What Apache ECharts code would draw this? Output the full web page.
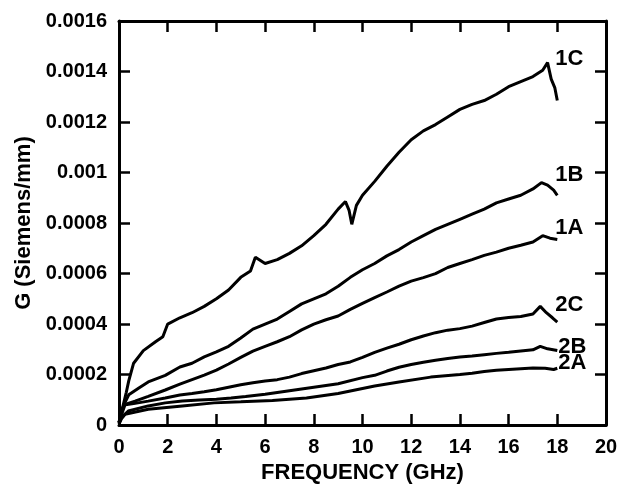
<!DOCTYPE html>
<html>
<head>
<meta charset="utf-8">
<script src="https://cdn.jsdelivr.net/npm/echarts@6/dist/echarts.min.js"></script>
<style>
html,body{margin:0;padding:0;background:#fff;}
#chart{width:621px;height:489px;}
</style>
</head>
<body>
<div id="chart"></div>
<script>
// Tick labels
const xTickLabels = ['0','2','4','6','8','10','12','14','16','18','20'];
const yTickLabels = ['0','0.0002','0.0004','0.0006','0.0008','0.001','0.0012','0.0014','0.0016'];

// Curve names
const curveNames = ['1C','1B','1A','2C','2B','2A'];

// 1C  (frequency GHz, G in units of 1e-4 S/mm)
const f1C = [0,0.1,0.2,0.3,0.4,0.6,1.0,1.5,1.8,2.0,2.5,3.0,3.5,4.0,4.5,5.0,5.4,5.6,6.0,6.5,7.0,7.5,8.0,8.5,9.0,9.3,9.45,9.56,9.75,10.0,10.5,11.0,11.5,12.0,12.5,13.0,13.5,14.0,14.5,15.0,15.5,16.0,16.5,17.0,17.4,17.6,17.75,17.9,18.0];
const g1C = [0.1,0.5,0.9,1.3,1.75,2.45,2.95,3.3,3.5,4.0,4.25,4.45,4.7,5.0,5.35,5.85,6.1,6.65,6.4,6.55,6.8,7.1,7.5,7.95,8.55,8.85,8.5,7.95,8.7,9.1,9.65,10.25,10.8,11.3,11.65,11.9,12.2,12.5,12.7,12.85,13.1,13.4,13.6,13.8,14.05,14.35,13.7,13.35,12.85];

// 1B
const f1B = [0,0.1,0.2,0.4,0.8,1.2,1.9,2.5,3.0,3.5,4.0,4.5,5.0,5.5,6.0,6.5,7.0,7.5,8.0,8.5,9.0,9.5,10.0,10.5,11.0,11.5,12.0,12.5,13.0,13.5,14.0,14.5,15.0,15.5,16.0,16.5,17.0,17.35,17.6,17.85,18.0];
const g1B = [0.1,0.5,0.8,1.2,1.46,1.71,1.97,2.3,2.45,2.7,2.9,3.12,3.45,3.8,4.0,4.2,4.5,4.8,5.0,5.2,5.5,5.85,6.15,6.4,6.7,6.95,7.25,7.5,7.75,7.95,8.15,8.35,8.55,8.8,8.95,9.1,9.35,9.6,9.5,9.3,9.1];

// 1A
const f1A = [0,0.1,0.25,0.66,1.2,1.9,2.5,3.0,3.5,4.0,4.5,5.0,5.5,6.0,6.5,7.0,7.5,8.0,8.5,9.0,9.5,10.0,10.5,11.0,11.5,12.0,12.5,13.0,13.5,14.0,14.5,15.0,15.5,16.0,16.5,17.0,17.4,17.7,18.0];
const g1A = [0.1,0.4,0.82,0.95,1.14,1.39,1.62,1.8,1.98,2.18,2.42,2.68,2.93,3.12,3.3,3.5,3.77,4.0,4.17,4.32,4.58,4.82,5.05,5.27,5.5,5.7,5.84,6.0,6.24,6.4,6.55,6.72,6.85,7.0,7.12,7.25,7.5,7.4,7.35];

// 2C
const f2C = [0,0.1,0.2,0.6,1.2,1.9,2.5,3.0,3.5,4.0,4.5,5.0,5.5,6.0,6.5,7.0,7.5,8.0,8.5,9.0,9.5,10.0,10.5,11.0,11.5,12.0,12.5,13.0,13.5,14.0,14.5,15.0,15.5,16.0,16.5,17.0,17.3,17.55,17.8,18.0];
const g2C = [0.1,0.5,0.8,0.85,0.95,1.07,1.19,1.25,1.32,1.4,1.5,1.6,1.68,1.75,1.8,1.9,2.04,2.15,2.26,2.4,2.5,2.68,2.88,3.05,3.2,3.38,3.53,3.66,3.76,3.82,3.92,4.06,4.2,4.26,4.3,4.4,4.7,4.45,4.25,4.08];

// 2B
const f2B = [0,0.1,0.38,1.2,1.9,2.6,3.3,4.0,4.6,5.2,6.0,7.0,8.0,9.0,10.0,10.5,11.0,11.5,12.0,12.5,13.0,13.5,14.0,14.5,15.0,15.5,16.0,16.5,17.0,17.3,17.6,18.0];
const g2B = [0.05,0.3,0.56,0.76,0.88,0.95,0.99,1.02,1.07,1.13,1.22,1.36,1.5,1.64,1.88,1.97,2.14,2.29,2.4,2.49,2.57,2.64,2.7,2.74,2.79,2.84,2.88,2.93,2.98,3.12,3.02,2.95];

// 2A
const f2A = [0,0.1,0.25,1.2,2.6,3.9,5.0,6.3,7.7,9.0,10.0,10.5,11.5,12.8,14.0,14.5,15.0,15.5,16.0,16.5,17.0,17.5,17.85,18.0];
const g2A = [0.05,0.25,0.43,0.63,0.76,0.88,0.92,0.97,1.07,1.25,1.45,1.55,1.71,1.9,2.0,2.05,2.12,2.17,2.2,2.23,2.26,2.25,2.2,2.25];

const freqs = [f1C,f1B,f1A,f2C,f2B,f2A];
const gvals = [g1C,g1B,g1A,g2C,g2B,g2A];
const labelOffsets = [[-2,-42],[-2,-20],[-2,-12],[-2,-17],[1,-4],[1,-5]];

const FONT = '"Liberation Sans", Arial, Helvetica, sans-serif';
const chart = echarts.init(document.getElementById('chart'), null, {renderer:'canvas'});

const axisLine = {show:true, onZero:false, lineStyle:{color:'#000', width:3}};
const tick = {show:true, inside:true, length:11, lineStyle:{color:'#000', width:2.5}};

const series = curveNames.map((name, i) => ({
  name: name,
  type: 'line',
  xAxisIndex: 0,
  yAxisIndex: 0,
  showSymbol: false,
  symbol: 'none',
  smooth: false,
  lineStyle: {color:'#000', width:3},
  data: freqs[i].map((f, j) => [f, gvals[i][j] * 1e-4]),
  endLabel: {
    show: true,
    formatter: name,
    color: '#000',
    fontFamily: FONT,
    fontWeight: 'bold',
    fontSize: 22,
    distance: 0,
    offset: labelOffsets[i],
    align: 'left',
    verticalAlign: 'middle'
  }
}));

chart.setOption({
  animation: false,
  backgroundColor: '#fff',
  grid: {left:119, right:15, top:21, bottom:51, containLabel:false},
  xAxis: [
    {
      type:'value', min:0, max:20, interval:2, position:'bottom',
      name:'FREQUENCY (GHz)', nameLocation:'middle', nameGap:33,
      nameTextStyle:{color:'#000', fontFamily:FONT, fontWeight:'bold', fontSize:22},
      axisLine: axisLine, axisTick: tick, splitLine:{show:false},
      axisLabel:{color:'#000', fontFamily:FONT, fontWeight:'bold', fontSize:20, margin:12,
        formatter:(v)=> xTickLabels[Math.round(v/2)]}
    },
    {
      type:'value', min:0, max:20, interval:2, position:'top',
      axisLine: axisLine, axisTick: tick, splitLine:{show:false}, axisLabel:{show:false}
    }
  ],
  yAxis: [
    {
      type:'value', min:0, max:0.0016, interval:0.0002, position:'left',
      name:'G (Siemens/mm)', nameLocation:'middle', nameGap:80,
      nameTextStyle:{color:'#000', fontFamily:FONT, fontWeight:'bold', fontSize:22},
      axisLine: axisLine, axisTick: tick, splitLine:{show:false},
      axisLabel:{color:'#000', fontFamily:FONT, fontWeight:'bold', fontSize:20, margin:12,
        formatter:(v)=> yTickLabels[Math.round(v/0.0002)]}
    },
    {
      type:'value', min:0, max:0.0016, interval:0.0002, position:'right',
      axisLine: axisLine, axisTick: tick, splitLine:{show:false}, axisLabel:{show:false}
    }
  ],
  series: series
});
</script>
</body>
</html>
